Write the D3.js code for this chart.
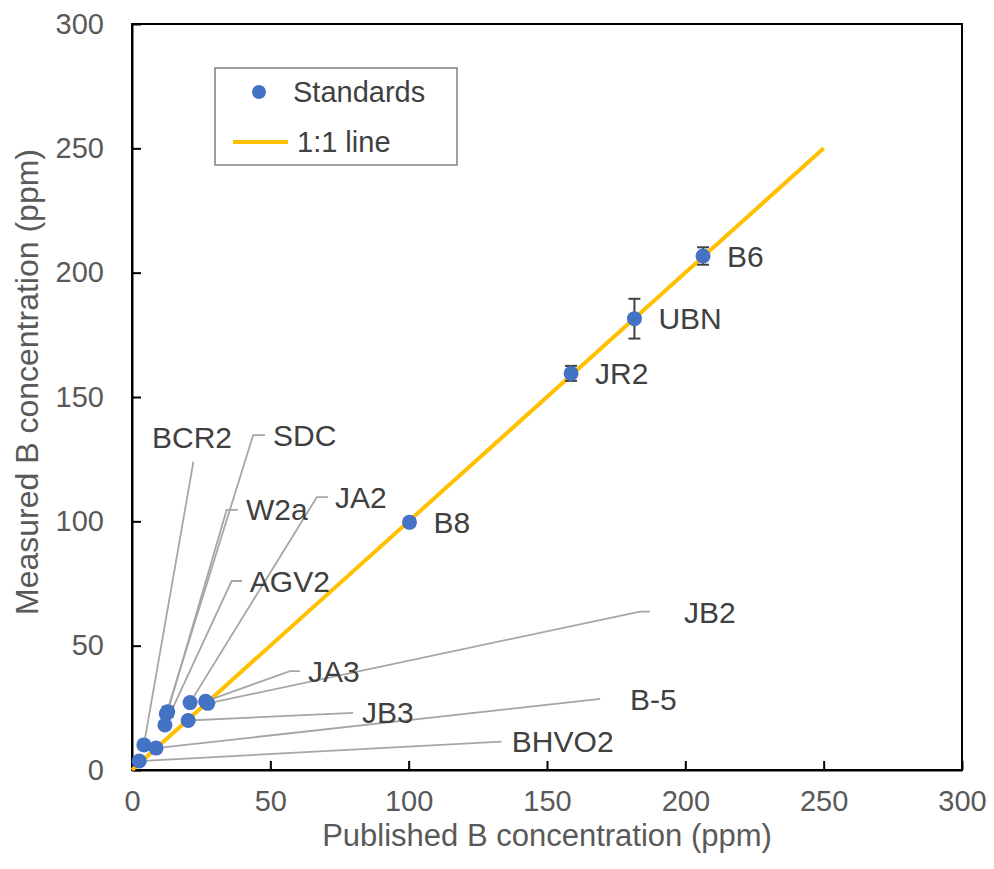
<!DOCTYPE html>
<html>
<head>
<meta charset="utf-8">
<script src="https://cdn.jsdelivr.net/npm/d3@7"></script>
<style>
  body { margin: 0; background: #fff; }
  svg { font-family: "Liberation Sans", Arial, sans-serif; }
</style>
</head>
<body>
<svg id="chart"></svg>
<script>
let width = 994;
let height = 869;

// standards: published vs measured boron (ppm)
let names = ["BHVO2", "BCR2", "B-5", "AGV2", "SDC", "W2a", "JB3", "JA2", "JA3", "JB2", "B8", "JR2", "UBN", "B6"];
let published = [2.6, 4.3, 8.7, 11.9, 12.4, 12.9, 20.3, 21.0, 26.6, 27.4, 100.3, 158.7, 181.6, 206.4];
let measured = [3.6, 10.1, 8.8, 18.1, 22.6, 23.4, 19.9, 27.1, 27.6, 26.8, 99.6, 159.5, 181.5, 206.7];
let errors = [0.5, 0.5, 0.6, 0.8, 1.0, 2.0, 0.8, 0.8, 0.8, 0.8, 1.5, 3.0, 8.0, 3.5];

// leader lines for the crowded low-value standards (data units), null = label beside the point
let elbowX = [133.6, 22.2, 169.2, 36.0, 43.8, 34.2, 79.9, 66.8, 57.1, 183.6, null, null, null, null];
let elbowY = [11.4, 124.0, 28.6, 76.0, 134.7, 104.6, 23.0, 109.7, 39.8, 63.7, null, null, null, null];
let stubX = [133.6, 22.2, 169.2, 39.8, 48.1, 38.3, 79.9, 70.8, 60.7, 187.2, null, null, null, null];
let textX = [137.3, 21.7, 180.0, 42.6, 51.0, 41.2, 83.1, 73.4, 63.6, 199.5, null, null, null, null];
let textY = [11.4, 133.9, 28.4, 76.0, 134.7, 104.6, 23.0, 109.7, 39.8, 63.5, null, null, null, null];

let oneToOne = [0, 250];
let xTicks = [0, 50, 100, 150, 200, 250, 300];
let yTicks = [0, 50, 100, 150, 200, 250, 300];

let svg = d3.select("#chart")
    .attr("width", width)
    .attr("height", height);

let x = d3.scaleLinear().domain([0, 300]).range([132, 962]);
let y = d3.scaleLinear().domain([0, 300]).range([770, 24]);

// frame
svg.append("rect")
    .attr("x", x(0)).attr("y", y(300))
    .attr("width", x(300) - x(0)).attr("height", y(0) - y(300))
    .attr("fill", "none").attr("stroke", "#000").attr("stroke-width", 2);

let xAxis = svg.append("g")
    .attr("transform", "translate(0," + y(0) + ")")
    .call(d3.axisBottom(x).tickValues(xTicks).tickSizeInner(-9).tickSizeOuter(0).tickPadding(24));
let yAxis = svg.append("g")
    .attr("transform", "translate(" + x(0) + ",0)")
    .call(d3.axisLeft(y).tickValues(yTicks).tickSizeInner(-9).tickSizeOuter(0).tickPadding(28));

[xAxis, yAxis].forEach(function (g) {
    g.select(".domain").attr("stroke", "#000").attr("stroke-width", 2);
    g.selectAll(".tick line").attr("stroke", "#000").attr("stroke-width", 2);
    g.selectAll(".tick text")
        .attr("fill", "#595959")
        .style("font-size", "29px")
        .style("font-family", "'Liberation Sans', Arial, sans-serif");
});
xAxis.selectAll(".tick text").attr("dy", "0.6em");

// axis titles
svg.append("text")
    .attr("x", (x(0) + x(300)) / 2).attr("y", 846)
    .attr("text-anchor", "middle")
    .attr("fill", "#595959")
    .style("font-size", "31px")
    .text("Published B concentration (ppm)");
svg.append("text")
    .attr("transform", "translate(38," + 382 + ") rotate(-90)")
    .attr("text-anchor", "middle")
    .attr("fill", "#595959")
    .style("font-size", "32px")
    .text("Measured B concentration (ppm)");

// 1:1 line
svg.append("line")
    .attr("x1", x(oneToOne[0])).attr("y1", y(oneToOne[0]))
    .attr("x2", x(oneToOne[1])).attr("y2", y(oneToOne[1]))
    .attr("stroke", "#FFC000").attr("stroke-width", 4);

// leader lines
let idx = d3.range(names.length);
let leaders = idx.filter(function (i) { return elbowX[i] !== null; });

svg.append("g")
    .selectAll("polyline")
    .data(leaders)
    .enter().append("polyline")
    .attr("points", function (i) {
        return [[x(published[i]), y(measured[i])], [x(elbowX[i]), y(elbowY[i])], [x(stubX[i]), y(elbowY[i])]].join(" ");
    })
    .attr("fill", "none")
    .attr("stroke", "#a6a6a6")
    .attr("stroke-width", 1.8);

// error bars
let eb = svg.append("g").attr("stroke", "#404040").attr("stroke-width", 2);
idx.forEach(function (i) {
    let cx = x(published[i]);
    let top = y(measured[i] + errors[i]);
    let bot = y(measured[i] - errors[i]);
    eb.append("line").attr("x1", cx).attr("x2", cx).attr("y1", top).attr("y2", bot);
    eb.append("line").attr("x1", cx - 6).attr("x2", cx + 6).attr("y1", top).attr("y2", top);
    eb.append("line").attr("x1", cx - 6).attr("x2", cx + 6).attr("y1", bot).attr("y2", bot);
});

// points
svg.append("g")
    .selectAll("circle")
    .data(idx)
    .enter().append("circle")
    .attr("cx", function (i) { return x(published[i]); })
    .attr("cy", function (i) { return y(measured[i]); })
    .attr("r", 7.5)
    .attr("fill", "#4472C4");

// point labels
svg.append("g")
    .selectAll("text")
    .data(idx)
    .enter().append("text")
    .attr("x", function (i) { return textX[i] === null ? x(published[i]) + 24 : x(textX[i]); })
    .attr("y", function (i) { return textY[i] === null ? y(measured[i]) : y(textY[i]); })
    .attr("dy", "0.35em")
    .attr("text-anchor", function (i) { return names[i] === "BCR2" ? "middle" : "start"; })
    .attr("fill", "#404040")
    .style("font-size", "30px")
    .text(function (i) { return names[i]; });

// legend
let legend = svg.append("g");
legend.append("rect")
    .attr("x", 215).attr("y", 68).attr("width", 242).attr("height", 97)
    .attr("fill", "#fff").attr("stroke", "#808080").attr("stroke-width", 1.5);
legend.append("circle")
    .attr("cx", 259).attr("cy", 92).attr("r", 7)
    .attr("fill", "#4472C4");
legend.append("line")
    .attr("x1", 233).attr("x2", 288).attr("y1", 142).attr("y2", 142)
    .attr("stroke", "#FFC000").attr("stroke-width", 4);
legend.append("text")
    .attr("x", 293).attr("y", 92).attr("dy", "0.35em")
    .attr("fill", "#404040").style("font-size", "29px")
    .text("Standards");
legend.append("text")
    .attr("x", 297).attr("y", 142).attr("dy", "0.35em")
    .attr("fill", "#404040").style("font-size", "29px")
    .text("1:1 line");
</script>
</body>
</html>
